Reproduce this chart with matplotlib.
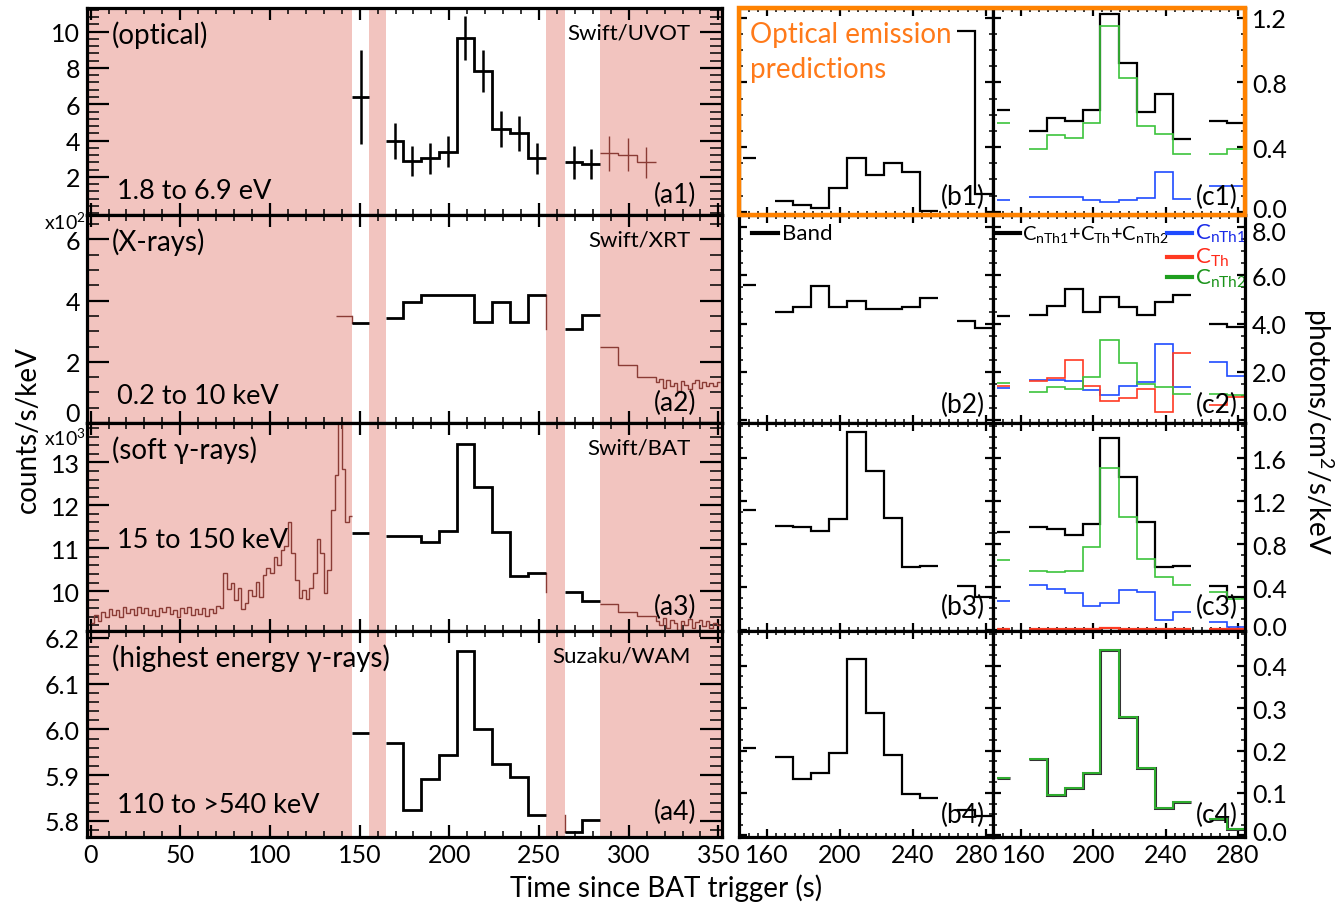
import numpy as np
import matplotlib
matplotlib.use("Agg")
import matplotlib.pyplot as plt
import matplotlib.transforms as mtransforms
from matplotlib.ticker import MultipleLocator, FixedLocator, FormatStrFormatter
from matplotlib.patches import Rectangle

# ---------------- data ----------------
# time bins (s)
first_edges = [146.0, 155.3]
main_edges = [164.5, 174.4, 184.2, 194.1, 204.0, 214.0, 224.0, 234.0, 244.0, 254.0]
late_edges = [264.3, 274.2, 284.2]
bc_first_edges = [146.5, 153.8]
shaded_spans = [(-5.0, 146.0), (155.3, 164.5), (254.0, 264.3), (284.2, 360.0)]

# (a1) Swift/UVOT optical
a1_first = [6.4]
a1_first_err = [2.6]
a1_main = [3.99, 2.89, 3.02, 3.39, 9.65, 7.82, 4.63, 4.39, 3.02]
a1_main_err = [1.0, 0.82, 0.87, 0.87, 1.2, 1.17, 1.0, 0.96, 0.87]
a1_late = [2.80, 2.71]
a1_late_err = [0.90, 0.82]
a1_tail_edges = [284.2, 294.3, 304.6, 315.0]
a1_tail = [3.30, 3.22, 2.80]
a1_tail_err = [0.96, 0.90, 0.87]

# (a2) Swift/XRT (x10^2)
a2_pre_edges = [136.7, 146.0]
a2_pre = [3.49]
a2_first = [3.27]
a2_main = [3.42, 3.94, 4.19, 4.19, 4.19, 3.29, 3.94, 3.31, 4.19]
a2_late = [3.07, 3.54]
tail_edges = list(np.concatenate([[284.2, 294.3, 304.6], np.arange(315, 352, 2)]))
a2_tail = [2.47, 1.89, 1.49, 1.35, 1.45, 1.15, 1.40, 1.20, 1.30, 1.05, 1.38, 1.25,
           1.12, 1.30, 1.42, 1.15, 1.35, 1.20, 1.32, 1.22, 1.35]

# (a3) Swift/BAT (x10^3)
a3_pre_edges = list(np.arange(0, 147, 2))
a3_pre = [9.25, 9.45, 9.30, 9.52, 9.40, 9.58, 9.45, 9.55, 9.40, 9.62, 9.48, 9.58,
          9.44, 9.62, 9.50, 9.60, 9.45, 9.56, 9.42, 9.60, 9.52, 9.64, 9.46, 9.55,
          9.40, 9.60, 9.48, 9.62, 9.44, 9.58, 9.46, 9.60, 9.42, 9.58, 9.48, 9.66,
          9.60, 10.42, 10.05, 10.18, 9.80, 10.08, 9.58, 9.72, 10.02, 9.88, 10.22, 9.86,
          10.38, 10.55, 10.42, 10.80, 10.62, 10.95, 11.05, 11.62, 10.90, 10.25, 9.85, 10.02,
          9.82, 10.08, 10.42, 11.22, 10.90, 9.95, 10.50, 11.90, 12.70, 13.95, 12.85, 11.62,
          11.75]
a3_first = [11.36]
a3_main = [11.28, 11.28, 11.15, 11.40, 13.44, 12.43, 11.38, 10.36, 10.43]
a3_late = [9.99, 9.78]
a3_tail = [9.70, 9.52, 9.42, 9.30, 9.20, 9.38, 9.15, 9.32, 9.25, 9.10, 9.30, 9.22,
           9.36, 9.15, 9.28, 9.32, 9.18, 9.30, 9.14, 9.26, 9.20]

# (a4) Suzaku/WAM
a4_first = [5.993]
a4_main = [5.971, 5.823, 5.891, 5.944, 6.172, 6.002, 5.925, 5.896, 5.813]
a4_late = [5.777, 5.802]

# (b) Band model, (c) multi-component model: [first, main..., late...]
b1 = [0.33, 0.066, 0.039, 0.023, 0.148, 0.33, 0.23, 0.30, 0.245, 0.002, 1.12, 0.111]
c1_tot = [0.63, 0.50, 0.58, 0.56, 0.63, 1.22, 0.92, 0.62, 0.73, 0.45, 0.56, 0.55]
c1_nth1 = [0.07, 0.09, 0.09, 0.09, 0.07, 0.06, 0.075, 0.085, 0.245, 0.08, 0.16, 0.16]
c1_nth2 = [0.55, 0.39, 0.475, 0.455, 0.55, 1.15, 0.83, 0.53, 0.48, 0.36, 0.36, 0.39]

b2 = [5.6, 4.48, 4.67, 5.57, 4.67, 4.92, 4.61, 4.59, 4.67, 5.05, 4.12, 3.82]
c2_tot = [4.30, 4.37, 4.74, 5.43, 4.47, 5.12, 4.67, 4.37, 4.88, 5.19, 4.00, 3.86]
c2_nth1 = [1.32, 1.66, 1.66, 1.64, 1.23, 1.05, 1.43, 1.57, 3.14, 1.39, 2.39, 1.84]
c2_th = [1.43, 1.60, 1.75, 2.48, 1.43, 0.78, 0.91, 1.30, 0.34, 2.77, 0.61, 0.95]
c2_nth2 = [1.54, 1.16, 1.36, 1.30, 1.77, 3.30, 2.36, 1.50, 1.36, 1.09, 1.09, 1.05]

b3 = [1.12, 0.97, 0.96, 0.92, 1.03, 1.85, 1.48, 1.04, 0.59, 0.60, 0.41, 0.31]
c3_tot = [0.91, 0.96, 0.94, 0.89, 0.99, 1.79, 1.43, 1.01, 0.59, 0.60, 0.41, 0.31]
c3_nth1 = [0.27, 0.415, 0.38, 0.34, 0.22, 0.25, 0.37, 0.35, 0.09, 0.17, 0.07, 0.03]
c3_th = [0.004, 0.004, 0.004, 0.004, 0.004, 0.02, 0.006, 0.004, 0.004, 0.004, 0.004, 0.004]
c3_nth2 = [0.65, 0.55, 0.54, 0.55, 0.77, 1.51, 1.05, 0.66, 0.49, 0.42, 0.35, 0.29]

b4 = [0.207, 0.184, 0.134, 0.147, 0.193, 0.415, 0.289, 0.189, 0.097, 0.089, 0.060, 0.045]
c4_tot = [0.136, 0.179, 0.096, 0.112, 0.146, 0.438, 0.278, 0.159, 0.064, 0.079, 0.038, 0.014]
c4_nth2 = [0.136, 0.179, 0.096, 0.112, 0.146, 0.438, 0.278, 0.159, 0.064, 0.079, 0.038, 0.014]

# tick label values
a1_yticks = [2, 4, 6, 8, 10]

# ---------------- style ----------------
plt.rcParams['font.family'] = ['Lato', 'DejaVu Sans']
plt.rcParams['mathtext.fontset'] = 'custom'
plt.rcParams['mathtext.rm'] = 'Lato'
plt.rcParams['mathtext.it'] = 'Lato:italic'
plt.rcParams['mathtext.bf'] = 'Lato:bold'

PINK = '#F2C4BF'
BROWN = '#8A3B35'
BLUE = '#1F4BFF'
RED = '#FF3A22'
GREEN = '#3CC43C'
ORANGE = '#FF8200'
TICK_FS = 18

W, H = 1342, 904
fig = plt.figure(figsize=(W / 100, H / 100), dpi=100)


def add_ax(x0, y0, x1, y1):
    return fig.add_axes([x0 / W, 1 - y1 / H, (x1 - x0) / W, (y1 - y0) / H])


def style(ax, xmaj, xmin, ymaj, ymin, ylen=(16, 8.5), xlen=(8.5, 4.5)):
    ax.xaxis.set_major_locator(MultipleLocator(xmaj))
    ax.xaxis.set_minor_locator(MultipleLocator(xmin))
    ax.yaxis.set_major_locator(MultipleLocator(ymaj))
    ax.yaxis.set_minor_locator(MultipleLocator(ymin))
    ax.tick_params(which='both', direction='in', top=True, right=True,
                   labelsize=TICK_FS)
    ax.tick_params(axis='x', which='major', length=xlen[0], width=1.6, pad=4)
    ax.tick_params(axis='x', which='minor', length=xlen[1], width=1.1)
    ax.tick_params(axis='y', which='major', length=ylen[0], width=1.6, pad=5)
    ax.tick_params(axis='y', which='minor', length=ylen[1], width=1.1)
    for s in ax.spines.values():
        s.set_linewidth(2.3)
        s.set_zorder(20)


def _offset(lab, dx_px, dy_px):
    lab.set_transform(lab.get_transform() +
                      mtransforms.ScaledTranslation(dx_px / 100, dy_px / 100, fig.dpi_scale_trans))


def shift_ylabel(ax, value, dy_px, side):
    locs = list(ax.yaxis.get_majorticklocs())
    idx = int(np.argmin(np.abs(np.asarray(locs) - value)))
    tick = ax.yaxis.get_major_ticks(len(locs))[idx]
    _offset(tick.label1 if side == 'left' else tick.label2, 0, dy_px)


def shift_xlabel(ax, value, dx_px):
    locs = list(ax.xaxis.get_majorticklocs())
    idx = int(np.argmin(np.abs(np.asarray(locs) - value)))
    tick = ax.xaxis.get_major_ticks(len(locs))[idx]
    _offset(tick.label1, dx_px, 0)


rows = [9, 216, 424, 632, 838]
LX0, LX1 = 87, 722
BX0, BX1 = 739, 993
CX0, CX1 = 993, 1245

ax_a = [add_ax(LX0, rows[i], LX1, rows[i + 1]) for i in range(4)]
ax_b = [add_ax(BX0, rows[i], BX1, rows[i + 1]) for i in range(4)]
ax_c = [add_ax(CX0, rows[i], CX1, rows[i + 1]) for i in range(4)]


def centers(edges):
    e = np.asarray(edges, dtype=float)
    return (e[:-1] + e[1:]) / 2


def black_steps(ax, first, main, late, lw=2.0):
    ax.stairs(first, first_edges, baseline=None, color='k', lw=lw, zorder=4)
    ax.stairs(main, main_edges, baseline=None, color='k', lw=lw, zorder=4)
    ax.stairs(late, late_edges, baseline=None, color='k', lw=lw, zorder=4)


# ---- left panels ----
a_ylims = [(-0.1, 11.3), (0.0, 6.8), (9.07, 13.92), (5.765, 6.215)]
a_yloc = [(2, 0.4), (2, 0.5), (1, 0.2), (0.1, 0.02)]
for ax, yl, (ymj, ymn) in zip(ax_a, a_ylims, a_yloc):
    for s0, s1 in shaded_spans:
        ax.axvspan(s0, s1, color=PINK, lw=0, zorder=0)
    ax.set_xlim(-2, 352)
    ax.set_ylim(*yl)
    style(ax, 50, 10, ymj, ymn)
    ax.tick_params(labelbottom=False)
ax_a[0].yaxis.set_major_locator(FixedLocator(a1_yticks))
ax_a[3].tick_params(labelbottom=True)
ax_a[3].yaxis.set_major_formatter(FormatStrFormatter('%.1f'))

# a1
ax = ax_a[0]
black_steps(ax, a1_first, a1_main, a1_late)
for edges, vals, errs, col, lw in [
        (first_edges, a1_first, a1_first_err, 'k', 1.8),
        (main_edges, a1_main, a1_main_err, 'k', 1.8),
        (late_edges, a1_late, a1_late_err, 'k', 1.8),
        (a1_tail_edges, a1_tail, a1_tail_err, BROWN, 1.0)]:
    ax.errorbar(centers(edges), vals, yerr=errs, fmt='none', ecolor=col,
                elinewidth=lw, capsize=0, zorder=4)
ax.stairs(a1_tail, a1_tail_edges, baseline=None, color=BROWN, lw=1.0, zorder=3)

# a2
ax = ax_a[1]
ax.stairs(a2_pre, a2_pre_edges, baseline=None, color=BROWN, lw=1.0, zorder=3)
ax.plot([a2_pre_edges[-1]] * 2, [a2_pre[-1], a2_first[0]], color=BROWN, lw=1.0, zorder=3)
black_steps(ax, a2_first, a2_main, a2_late)
ax.plot([main_edges[-1]] * 2, [a2_main[-1], a2_late[0]], color=BROWN, lw=1.0, zorder=3)
ax.stairs(a2_tail, tail_edges, baseline=None, color=BROWN, lw=1.0, zorder=3)

# a3
ax = ax_a[2]
ax.stairs(a3_pre, a3_pre_edges, baseline=None, color=BROWN, lw=1.0, zorder=3)
black_steps(ax, a3_first, a3_main, a3_late)
ax.plot([main_edges[-1]] * 2, [a3_main[-1], a3_late[0]], color=BROWN, lw=1.0, zorder=3)
ax.stairs(a3_tail, tail_edges, baseline=None, color=BROWN, lw=1.0, zorder=3)

# a4
ax = ax_a[3]
black_steps(ax, a4_first, a4_main, a4_late)
ax.plot([late_edges[0]] * 2, [a4_main[-1], a4_late[0]], color=BROWN, lw=1.0, zorder=3)

# panel texts
a_texts = [
    ('(optical)', 'Swift/UVOT', '1.8 to 6.9 eV', 0.116, '(a1)', 0.10),
    ('(X-rays)', 'Swift/XRT', '0.2 to 10 keV', 0.13, '(a2)', 0.10),
    ('(soft γ-rays)', 'Swift/BAT', '15 to 150 keV', 0.44, '(a3)', 0.12),
    ('(highest energy γ-rays)', 'Suzaku/WAM', '110 to >540 keV', 0.16, '(a4)', 0.125),
]
for ax, (t1, t2, t3, y3, t4, y4) in zip(ax_a, a_texts):
    ax.text(0.039, 0.875, t1, transform=ax.transAxes, fontsize=20, va='center', ha='left', zorder=6)
    ax.text(0.95, 0.88, t2, transform=ax.transAxes, fontsize=16, va='center', ha='right', zorder=6)
    ax.text(0.047, y3, t3, transform=ax.transAxes, fontsize=19.5, va='center', ha='left', zorder=6)
    ax.text(0.96, y4, t4, transform=ax.transAxes, fontsize=19, va='center', ha='right', zorder=6)

# ---- right panels ----
c_ylims = [(-0.02, 1.26), (-0.12, 8.5), (-0.01, 1.93), (-0.004, 0.482)]
c_yloc = [(0.4, 0.1), (2.0, 0.5), (0.4, 0.1), (0.1, 0.025)]
b_series = [b1, b2, b3, b4]
c_series = [
    [(c1_tot, 'k', 1.6), (c1_nth1, BLUE, 1.2), (c1_nth2, GREEN, 1.2)],
    [(c2_tot, 'k', 1.6), (c2_nth1, BLUE, 1.2), (c2_th, RED, 1.2), (c2_nth2, GREEN, 1.2)],
    [(c3_tot, 'k', 1.6), (c3_nth1, BLUE, 1.2), (c3_th, RED, 1.6), (c3_nth2, GREEN, 1.2)],
    [(c4_tot, '#333333', 2.2), (c4_nth2, '#2FB02F', 1.4)],
]


def bc_steps(ax, vals, color, lw):
    ax.stairs(vals[:1], bc_first_edges, baseline=None, color=color, lw=lw, zorder=4)
    ax.stairs(vals[1:10], main_edges, baseline=None, color=color, lw=lw, zorder=4)
    ax.stairs(vals[10:], late_edges, baseline=None, color=color, lw=lw, zorder=4)


for i in range(4):
    for ax in (ax_b[i], ax_c[i]):
        ax.set_xlim(144.5, 284.0)
        ax.set_ylim(*c_ylims[i])
        style(ax, 40, 5, c_yloc[i][0], c_yloc[i][1], ylen=(5.5, 2.8), xlen=(5.5, 2.8))
        ax.tick_params(labelleft=False, labelbottom=(i == 3))
    ax_c[i].tick_params(labelright=True)
    ax_c[i].yaxis.set_major_formatter(FormatStrFormatter('%.1f'))
    bc_steps(ax_b[i], b_series[i], 'k', 1.6)
    for vals, col, lw in c_series[i]:
        bc_steps(ax_c[i], vals, col, lw)

# b/c labels
for i, yy in enumerate([0.09, 0.09, 0.12, 0.11]):
    ax_b[i].text(0.968, yy, '(b%d)' % (i + 1), transform=ax_b[i].transAxes,
                 fontsize=19, ha='right', va='center', zorder=6)
    ax_c[i].text(0.972, yy, '(c%d)' % (i + 1), transform=ax_c[i].transAxes,
                 fontsize=19, ha='right', va='center', zorder=6)

# optical predictions text & box
ax_b[0].text(0.043, 0.937, 'Optical emission\npredictions', transform=ax_b[0].transAxes,
             fontsize=20, color='#FF7A1A', ha='left', va='top', linespacing=1.42, zorder=6)
fig.add_artist(Rectangle((BX0 / W, 1 - 216 / H), (CX1 - BX0) / W, (216 - 9) / H,
                         transform=fig.transFigure, fill=False, ec=ORANGE, lw=3.2, zorder=30))

# legends
axl = ax_b[1]
axl.plot([0.051, 0.154], [0.913, 0.913], transform=axl.transAxes, color='k', lw=3, clip_on=False, zorder=6)
axl.text(0.169, 0.913, 'Band', transform=axl.transAxes, fontsize=16, va='center', ha='left')
axl = ax_c[1]
axl.plot([0.016, 0.107], [0.913, 0.913], transform=axl.transAxes, color='k', lw=3, clip_on=False, zorder=6)
axl.text(0.115, 0.913, r'C$_{\rm nTh1}$+C$_{\rm Th}$+C$_{\rm nTh2}$', transform=axl.transAxes,
         fontsize=14.5, va='center', ha='left')
for yy, lab, lcol, tcol in [(0.913, r'C$_{\rm nTh1}$', '#1F4BFF', '#1A2BE8'),
                            (0.80, r'C$_{\rm Th}$', '#FF3A22', '#FF2A1A'),
                            (0.70, r'C$_{\rm nTh2}$', '#1E9E1E', '#1A931A')]:
    axl.plot([0.69, 0.79], [yy, yy], transform=axl.transAxes, color=lcol, lw=3, clip_on=False, zorder=6)
    axl.text(0.80, yy, lab, transform=axl.transAxes, fontsize=16, va='center', ha='left', color=tcol)

# axis titles
fig.text(28 / W, 1 - 430 / H, 'counts/s/keV', rotation=90, fontsize=20, ha='center', va='center')
fig.text(1318 / W, 1 - 432 / H, 'photons/cm$^2$/s/keV', rotation=270, fontsize=20, ha='center', va='center')
fig.text(666 / W, 1 - 888 / H, 'Time since BAT trigger (s)', fontsize=20, ha='center', va='center')
fig.text(86 / W, 1 - 222 / H, 'x10$^2$', fontsize=14, ha='right', va='center')
fig.text(86 / W, 1 - 438 / H, 'x10$^3$', fontsize=14, ha='right', va='center')

# nudge edge tick labels like the reference
shift_ylabel(ax_a[1], 0.0, 12, 'left')
shift_ylabel(ax_c[0], 0.0, 4, 'right')
shift_ylabel(ax_c[1], 8.0, -3, 'right')
shift_ylabel(ax_c[1], 0.0, 10, 'right')
shift_ylabel(ax_c[2], 0.0, 4, 'right')
shift_ylabel(ax_c[3], 0.0, 5, 'right')
shift_xlabel(ax_b[3], 280, -9)
shift_xlabel(ax_c[3], 160, 3)

fig.savefig('out.png', dpi=100)
